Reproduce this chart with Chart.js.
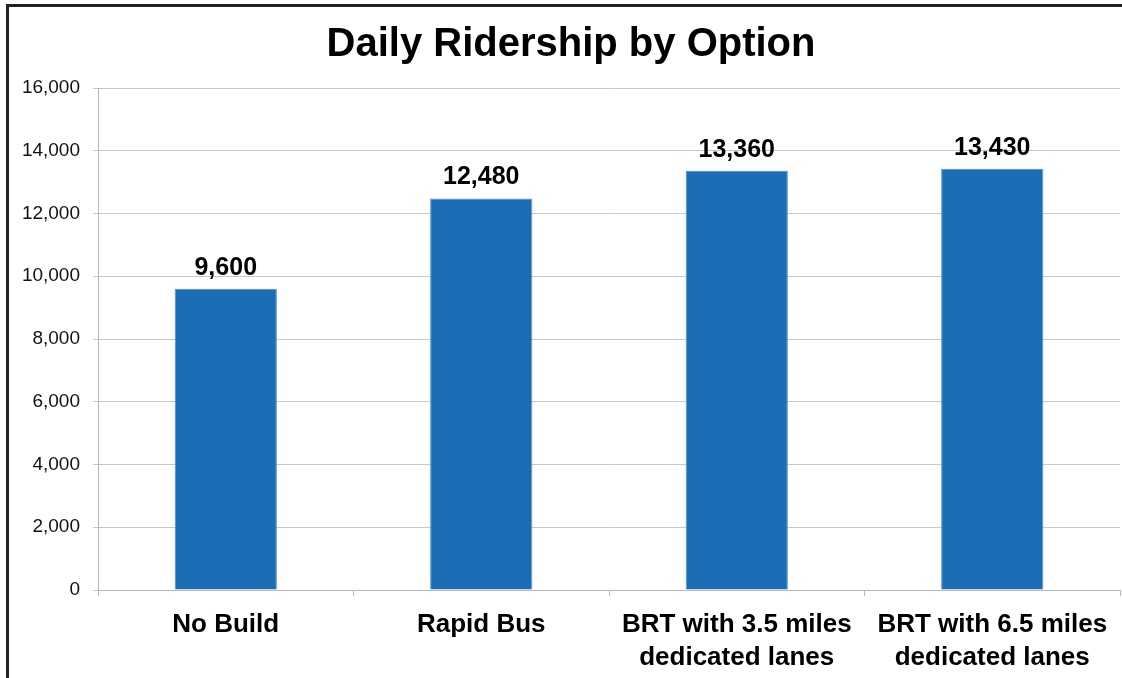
<!DOCTYPE html>
<html>
<head>
<meta charset="utf-8">
<script src="https://cdn.jsdelivr.net/npm/chart.js@4.4.1/dist/chart.umd.min.js"></script>
<style>
  html, body { margin: 0; padding: 0; background: #fff; }
  #wrap { position: relative; width: 1122px; height: 678px; }
  #frame {
    position: absolute; left: 6px; top: 4px; right: 0; bottom: 0;
    border-left: 3px solid #222; border-top: 3px solid #222;
  }
  #chart { position: absolute; left: 0; top: 0; }
</style>
</head>
<body>
<div id="wrap">
  <div id="frame"></div>
  <canvas id="chart" width="1122" height="678"></canvas>
</div>
<script>
// Daily Ridership by Option
const categories = [
  ['No Build'],
  ['Rapid Bus'],
  ['BRT with 3.5 miles', 'dedicated lanes'],
  ['BRT with 6.5 miles', 'dedicated lanes']
];
const ridership = [9600, 12480, 13360, 13430];
const yTicks = [0, 2000, 4000, 6000, 8000, 10000, 12000, 14000, 16000];

const FONT = "'Liberation Sans', Arial, sans-serif";

// value labels above the bars
const valueLabels = {
  id: 'valueLabels',
  afterDatasetsDraw(chart) {
    const ctx = chart.ctx;
    const meta = chart.getDatasetMeta(0);
    ctx.save();
    ctx.font = 'bold 25px ' + FONT;
    ctx.fillStyle = '#000';
    ctx.textAlign = 'center';
    ctx.textBaseline = 'alphabetic';
    meta.data.forEach((bar, i) => {
      ctx.fillText(ridership[i].toLocaleString('en-US'), bar.x, bar.y - 14);
    });
    ctx.restore();
  }
};

new Chart(document.getElementById('chart'), {
  type: 'bar',
  data: {
    labels: categories,
    datasets: [{
      data: ridership,
      backgroundColor: '#1b6db6',
      borderColor: '#4a8fd0',
      borderWidth: 1,
      barPercentage: 0.4,
      categoryPercentage: 1
    }]
  },
  options: {
    responsive: false,
    animation: false,
    layout: { padding: { left: 22, right: 2, top: 0, bottom: 0 } },
    plugins: {
      legend: { display: false },
      tooltip: { enabled: false },
      title: {
        display: true,
        text: 'Daily Ridership by Option',
        color: '#000',
        font: { family: FONT, size: 40, weight: 'bold', lineHeight: 1.2 },
        padding: { top: 21, bottom: 19 }
      }
    },
    scales: {
      x: {
        grid: { drawOnChartArea: false, drawTicks: true, tickLength: 6, color: '#b8b8b8' },
        border: { color: '#b8b8b8', width: 1 },
        ticks: {
          color: '#000',
          padding: 12,
          maxRotation: 0,
          autoSkip: false,
          font: { family: FONT, size: 26, weight: 'bold', lineHeight: 1.27 }
        },
        afterFit(scale) { scale.height = 88; }
      },
      y: {
        min: 0,
        max: 16000,
        afterBuildTicks(scale) { scale.ticks = yTicks.map(v => ({ value: v })); },
        grid: { color: '#c8c8c8', tickLength: 5 },
        border: { color: '#b8b8b8', width: 1 },
        ticks: {
          color: '#111',
          padding: 13,
          font: { family: FONT, size: 19 },
          callback: v => v.toLocaleString('en-US')
        },
        afterFit(scale) { scale.width = 76; }
      }
    }
  },
  plugins: [valueLabels]
});
</script>
</body>
</html>
